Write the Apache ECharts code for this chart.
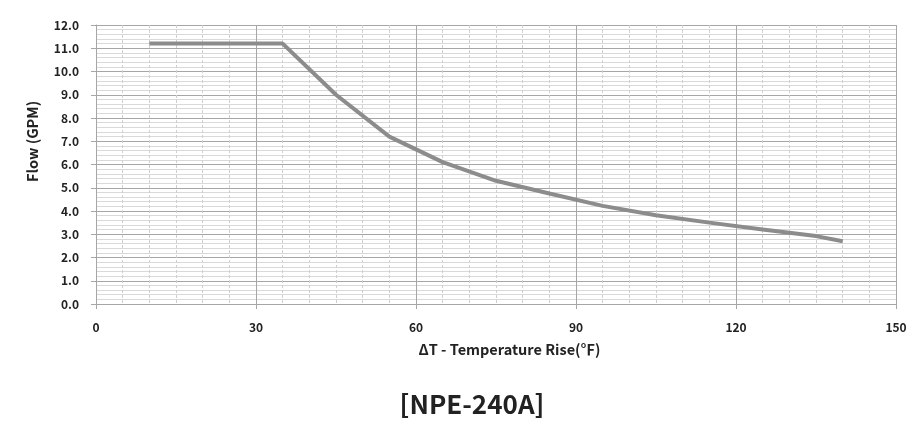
<!DOCTYPE html>
<html>
<head>
<meta charset="utf-8">
<script src="https://cdn.jsdelivr.net/npm/echarts@6/dist/echarts.min.js"></script>
<style>html,body{margin:0;padding:0;background:#fff}#c{width:919px;height:448px}</style>
</head>
<body>
<div id="c"></div>
<script>
const tempRise = [10, 35, 45, 55, 65, 75, 85, 95, 105, 115, 125, 135, 140];
const flowGpm = [11.2, 11.2, 9.0, 7.2, 6.1, 5.3, 4.75, 4.22, 3.82, 3.5, 3.2, 2.92, 2.7];
const chartTitle = '[NPE-240A]';
const xName = 'ΔT - Temperature Rise(℉)';
const yName = 'Flow (GPM)';

const font = '"Noto Sans CJK KR", "Open Sans", sans-serif';
const chart = echarts.init(document.getElementById('c'));
chart.setOption({
  animation: false,
  title: {
    text: chartTitle,
    left: 467, top: 386, textAlign: 'center',
    textStyle: { fontFamily: font, fontWeight: 'bold', fontSize: 26, color: '#222' }
  },
  grid: { left: 96, right: 23, top: 25, bottom: 144 },
  xAxis: {
    type: 'value', min: 0, max: 150, interval: 30,
    name: xName, nameLocation: 'middle', nameGap: 38,
    nameTextStyle: { fontFamily: font, fontWeight: 'bold', fontSize: 14.5, color: '#222', padding: [0, 0, 0, 27] },
    axisLine: { show: true, lineStyle: { color: '#a6a6a6', width: 1 } },
    axisTick: { show: true, length: 5, lineStyle: { color: '#a6a6a6' } },
    axisLabel: { fontFamily: font, fontWeight: 'bold', fontSize: 12, color: '#222', margin: 17 },
    splitLine: { show: true, lineStyle: { color: '#a6a6a6', width: 1 } },
    minorTick: { show: false, splitNumber: 6 },
    minorSplitLine: { show: true, lineStyle: { color: '#cfcfcf', width: 1, type: [3, 2] } }
  },
  yAxis: {
    type: 'value', min: 0, max: 12, interval: 1,
    name: yName, nameLocation: 'middle', nameGap: 56, nameRotate: 90,
    nameTextStyle: { fontFamily: font, fontWeight: 'bold', fontSize: 14.5, color: '#222', padding: [0, 0, 0, 46] },
    axisLine: { show: true, lineStyle: { color: '#a6a6a6', width: 1 } },
    axisTick: { show: true, length: 5, lineStyle: { color: '#a6a6a6' } },
    axisLabel: { fontFamily: font, fontWeight: 'bold', fontSize: 12, color: '#222', margin: 17,
      formatter: v => v.toFixed(1) },
    splitLine: { show: true, lineStyle: { color: '#a6a6a6', width: 1 } },
    minorTick: { show: false, splitNumber: 5 },
    minorSplitLine: { show: true, lineStyle: { color: '#d9d9d9', width: 1 } }
  },
  series: [{
    type: 'line',
    data: tempRise.map((x, i) => [x, flowGpm[i]]),
    showSymbol: false,
    lineStyle: { color: '#8c8c8c', width: 4 },
    itemStyle: { color: '#8c8c8c' }
  }]
});
</script>
</body>
</html>
